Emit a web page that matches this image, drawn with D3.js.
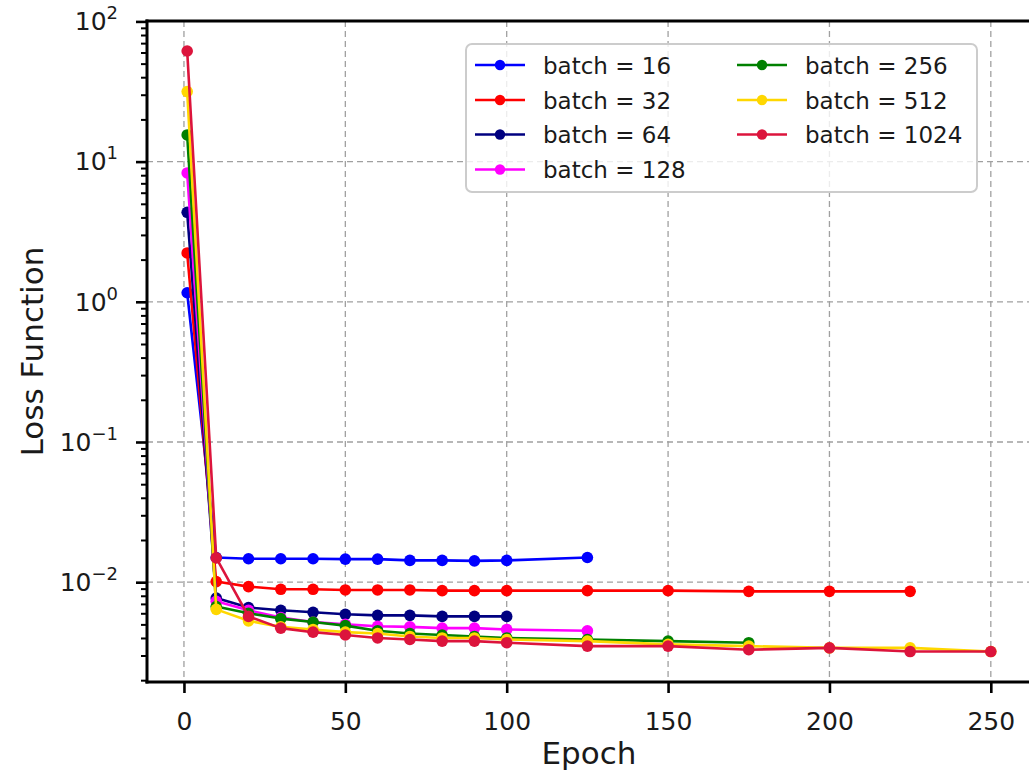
<!DOCTYPE html>
<html>
<head>
<meta charset="utf-8">
<script src="https://cdn.jsdelivr.net/npm/d3@7"></script>
<style>
  html, body { margin: 0; padding: 0; background: #ffffff; }
  svg { display: block; font-family: "DejaVu Sans", sans-serif; }
</style>
</head>
<body>
<svg id="chart" width="1029" height="772"></svg>
<script>
// ---------------- data ----------------
const labels = ["batch = 16", "batch = 32", "batch = 64", "batch = 128", "batch = 256", "batch = 512", "batch = 1024"];
const colors = ["#0000ff", "#ff0000", "#000080", "#ff00ff", "#008000", "#ffd700", "#dc143c"];

const epochs16   = [1, 10, 20, 30, 40, 50, 60, 70, 80, 90, 100, 125];
const loss16     = [1.16, 0.0150, 0.0147, 0.0147, 0.0147, 0.0146, 0.0146, 0.0143, 0.0143, 0.0142, 0.0143, 0.0150];

const epochs32   = [1, 10, 20, 30, 40, 50, 60, 70, 80, 90, 100, 125, 150, 175, 200, 225];
const loss32     = [2.23, 0.0101, 0.0093, 0.0089, 0.0089, 0.0088, 0.0088, 0.0088, 0.0087, 0.0087, 0.0087, 0.0087, 0.0087, 0.0086, 0.0086, 0.0086];

const epochs64   = [1, 10, 20, 30, 40, 50, 60, 70, 80, 90, 100];
const loss64     = [4.35, 0.0077, 0.0066, 0.0063, 0.0061, 0.0059, 0.0058, 0.0058, 0.0057, 0.0057, 0.0057];

const epochs128  = [1, 10, 20, 30, 40, 50, 60, 70, 80, 90, 100, 125];
const loss128    = [8.3, 0.0073, 0.0063, 0.0056, 0.0052, 0.0050, 0.00485, 0.0048, 0.0047, 0.0047, 0.0046, 0.0045];

const epochs256  = [1, 10, 20, 30, 40, 50, 60, 70, 80, 90, 100, 125, 150, 175];
const loss256    = [15.5, 0.0067, 0.0060, 0.0055, 0.0052, 0.0049, 0.0045, 0.0043, 0.0042, 0.0041, 0.0040, 0.0039, 0.0038, 0.0037];

const epochs512  = [1, 10, 20, 30, 40, 50, 60, 70, 80, 90, 100, 125, 150, 175, 200, 225, 250];
const loss512    = [31.6, 0.0064, 0.0053, 0.0048, 0.0046, 0.0044, 0.0043, 0.0041, 0.0040, 0.0040, 0.0039, 0.0038, 0.0036, 0.0035, 0.0034, 0.0034, 0.0032];

const epochs1024 = [1, 10, 20, 30, 40, 50, 60, 70, 80, 90, 100, 125, 150, 175, 200, 225, 250];
const loss1024   = [61.5, 0.0149, 0.0057, 0.0047, 0.0044, 0.0042, 0.0040, 0.0039, 0.0038, 0.0038, 0.0037, 0.0035, 0.0035, 0.0033, 0.0034, 0.0032, 0.0032];

const xTicks = [0, 50, 100, 150, 200, 250];
const yTickExponents = [-2, -1, 0, 1, 2];
const xLabel = "Epoch";
const yLabel = "Loss Function";

const seriesEpochs = [epochs16, epochs32, epochs64, epochs128, epochs256, epochs512, epochs1024];
const seriesLoss   = [loss16, loss32, loss64, loss128, loss256, loss512, loss1024];
const series = labels.map((name, i) => ({
  name, color: colors[i],
  points: seriesEpochs[i].map((e, j) => ({ x: e, y: seriesLoss[i][j] }))
}));

// ---------------- layout ----------------
const svg = d3.select("#chart");
const pLeft = 147, pRight = 1031, pTop = 21, pBottom = 682;

const x = d3.scaleLinear().domain([-11.45, 262.45]).range([pLeft, pRight]);
const y = d3.scaleLog().domain([Math.pow(10, -2.712), Math.pow(10, 2.003)]).range([pBottom, pTop]);

const majorY = yTickExponents.map(e => Math.pow(10, e));
const minorY = [];
for (let d = -3; d <= 1; d++) {
  for (let k = 2; k <= 9; k++) {
    const v = k * Math.pow(10, d);
    if (v >= y.domain()[0] && v <= y.domain()[1]) minorY.push(v);
  }
}

svg.append("defs").append("clipPath").attr("id", "plotclip")
  .append("rect").attr("x", pLeft).attr("y", pTop - 8).attr("width", pRight - pLeft + 10).attr("height", pBottom - pTop + 8);

// ---------------- grid ----------------
const grid = svg.append("g").attr("class", "grid");
grid.selectAll("line.gx").data(xTicks).join("line")
  .attr("x1", d => x(d)).attr("x2", d => x(d))
  .attr("y1", pTop).attr("y2", pBottom)
  .attr("stroke", "#a0a0a0").attr("stroke-width", 1.3).attr("stroke-dasharray", "6,4");
grid.selectAll("line.gy").data(majorY).join("line")
  .attr("x1", pLeft).attr("x2", pRight)
  .attr("y1", d => y(d)).attr("y2", d => y(d))
  .attr("stroke", "#a0a0a0").attr("stroke-width", 1.3).attr("stroke-dasharray", "6,4");

// ---------------- series ----------------
const line = d3.line().x(d => x(d.x)).y(d => y(d.y));
const plot = svg.append("g").attr("clip-path", "url(#plotclip)");
series.forEach(s => {
  const g = plot.append("g");
  g.append("path").datum(s.points)
    .attr("d", line).attr("fill", "none")
    .attr("stroke", s.color).attr("stroke-width", 2.6).attr("stroke-linejoin", "round");
  g.selectAll("circle").data(s.points).join("circle")
    .attr("cx", d => x(d.x)).attr("cy", d => y(d.y)).attr("r", 5.8)
    .attr("fill", s.color);
});

// ---------------- axes ----------------
const xAxis = d3.axisBottom(x).tickValues(xTicks).tickSize(11).tickFormat(d3.format("d"));
const gx = svg.append("g").attr("transform", `translate(0,${pBottom})`).call(xAxis);
gx.select(".domain").remove();
gx.selectAll(".tick line").attr("stroke", "#000").attr("stroke-width", 2.6);
gx.selectAll(".tick text").attr("font-size", 25).attr("fill", "#1a1a1a")
  .attr("font-family", "DejaVu Sans").attr("y", 48).attr("dy", 0);

const yAxis = d3.axisLeft(y).tickValues(majorY).tickSize(11).tickFormat(() => "");
const gy = svg.append("g").attr("transform", `translate(${pLeft},0)`).call(yAxis);
gy.select(".domain").remove();
gy.selectAll(".tick line").attr("stroke", "#000").attr("stroke-width", 2.6);
gy.selectAll(".tick text").each(function(d) {
  const t = d3.select(this);
  const e = Math.round(Math.log10(d));
  t.text(null)
   .attr("x", -29).attr("dy", "0.33em")
   .attr("text-anchor", "end")
   .attr("font-size", 25).attr("fill", "#1a1a1a").attr("font-family", "DejaVu Sans");
  t.append("tspan").text("10");
  t.append("tspan").attr("font-size", 18).attr("dy", -11)
   .text(e < 0 ? "\u2212" + Math.abs(e) : String(e));
});

const yMinor = d3.axisLeft(y).tickValues(minorY).tickSize(6).tickFormat(() => "");
const gym = svg.append("g").attr("transform", `translate(${pLeft},0)`).call(yMinor);
gym.select(".domain").remove();
gym.selectAll(".tick line").attr("stroke", "#000").attr("stroke-width", 2);

// spines
const spines = svg.append("g").attr("stroke", "#000").attr("stroke-width", 3).attr("stroke-linecap", "square");
spines.append("line").attr("x1", pLeft).attr("x2", pLeft).attr("y1", pTop).attr("y2", pBottom);
spines.append("line").attr("x1", pLeft).attr("x2", pRight).attr("y1", pBottom).attr("y2", pBottom);
spines.append("line").attr("x1", pLeft).attr("x2", pRight).attr("y1", pTop).attr("y2", pTop);
spines.append("line").attr("x1", pRight).attr("x2", pRight).attr("y1", pTop).attr("y2", pBottom);

// axis labels
svg.append("text").attr("x", (pLeft + pRight) / 2).attr("y", 764)
  .attr("text-anchor", "middle").attr("font-size", 31).attr("fill", "#1a1a1a").text(xLabel);
svg.append("text").attr("transform", `translate(43,${(pTop + pBottom) / 2}) rotate(-90)`)
  .attr("text-anchor", "middle").attr("font-size", 31).attr("fill", "#1a1a1a").text(yLabel);

// ---------------- legend ----------------
const lg = svg.append("g");
lg.append("rect").attr("x", 466).attr("y", 44).attr("width", 511).attr("height", 148).attr("rx", 6)
  .attr("fill", "#ffffff").attr("fill-opacity", 0.8).attr("stroke", "#cccccc").attr("stroke-width", 2);
const colX = [475, 737];
const rowY = [65, 100, 134.5, 169.5];
series.forEach((s, i) => {
  const c = i < 4 ? 0 : 1;
  const r = i < 4 ? i : i - 4;
  const lx = colX[c], ly = rowY[r];
  lg.append("line").attr("x1", lx).attr("x2", lx + 50).attr("y1", ly).attr("y2", ly)
    .attr("stroke", s.color).attr("stroke-width", 2.6);
  lg.append("circle").attr("cx", lx + 25).attr("cy", ly).attr("r", 5.2).attr("fill", s.color);
  lg.append("text").attr("x", lx + 68).attr("y", ly + 8.5)
    .attr("font-size", 23).attr("fill", "#1a1a1a").text(s.name);
});
</script>
</body>
</html>
